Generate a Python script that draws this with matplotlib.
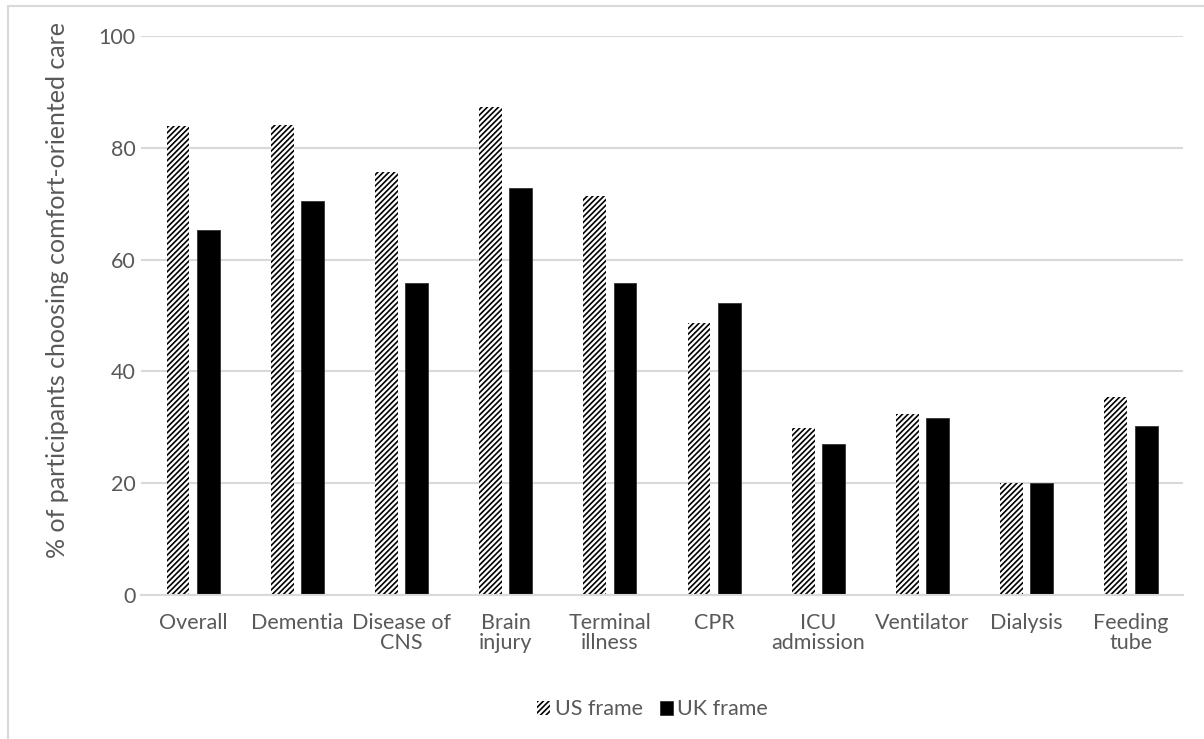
import numpy as np
import matplotlib.pyplot as plt
from matplotlib.patches import Rectangle

# datos de la figura
categorias = ["Overall", "Dementia", "Disease of\nCNS", "Brain\ninjury", "Terminal\nillness",
              "CPR", "ICU\nadmission", "Ventilator", "Dialysis", "Feeding\ntube"]
us_frame = [83.9, 84.1, 75.7, 87.3, 71.3, 48.6, 29.8, 32.4, 20.1, 35.5]
uk_frame = [65.3, 70.5, 55.8, 72.8, 55.8, 52.2, 27.0, 31.7, 20.0, 30.2]
yticks = [0, 20, 40, 60, 80, 100]

gris = "#595959"
plt.rcParams['font.family'] = ['Lato', 'DejaVu Sans']
plt.rcParams['hatch.linewidth'] = 1.2

fig = plt.figure(figsize=(12.04, 7.39), dpi=100)
ax = fig.add_axes([0.1171, 0.1949, 0.8655, 0.7564])

x = np.arange(len(categorias))
ancho = 0.22
sep = 0.07

# barras US (rayadas) y UK (negras)
ax.bar(x - (ancho + sep) / 2, us_frame, ancho, color='white', edgecolor='black',
       hatch='//////', linewidth=0, label='US frame')
ax.bar(x + (ancho + sep) / 2, uk_frame, ancho, color='black', edgecolor='#333333',
       linewidth=0.6, label='UK frame')

ax.set_xlim(-0.5, len(categorias) - 0.5)
ax.set_ylim(0, 100)
ax.set_yticks(yticks)
ax.set_xticks(x)
ax.set_xticklabels(categorias, fontsize=15.5, color=gris, linespacing=1.0)
ax.tick_params(axis='y', labelsize=15.5, labelcolor=gris, length=0, pad=4)
ax.tick_params(axis='x', length=0, pad=13)

ax.grid(axis='y', color='#d9d9d9', linewidth=1.5)
ax.set_axisbelow(True)
for lado in ['top', 'right', 'left']:
    ax.spines[lado].set_visible(False)
ax.spines['bottom'].set_color('#d9d9d9')
ax.spines['bottom'].set_linewidth(1.5)

fig.text(0.048, 0.607, "% of participants choosing comfort-oriented care", rotation=90,
         ha='center', va='center', fontsize=18, color=gris)

leg = fig.legend(loc='center', bbox_to_anchor=(0.542, 0.04), ncol=2, frameon=False,
                 fontsize=15.5, handlelength=0.6, handleheight=0.6, handletextpad=0.2,
                 columnspacing=0.8, labelcolor=gris)

# borde del area del grafico
fig.patches.append(Rectangle((8 / 1204, -0.01), 1.02, 1 - 6 / 739 + 0.01,
                             transform=fig.transFigure, fill=False,
                             edgecolor='#d9d9d9', linewidth=1.5))

fig.savefig("out.png", dpi=100)
